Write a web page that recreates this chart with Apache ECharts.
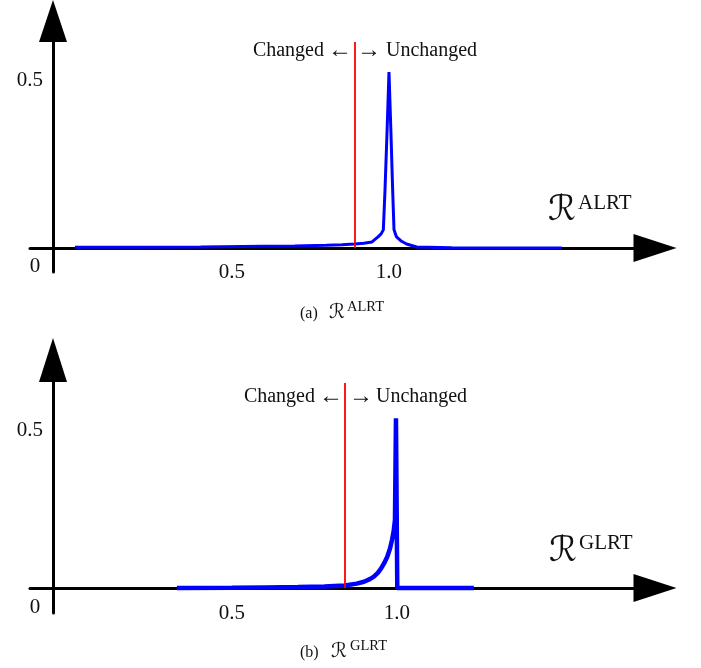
<!DOCTYPE html>
<html><head><meta charset="utf-8">
<script src="https://cdn.jsdelivr.net/npm/echarts@6/dist/echarts.min.js"></script>
<style>html,body{margin:0;padding:0;background:#fff}#c{width:701px;height:668px}</style>
</head><body><div id="c"></div>
<script>
// ALRT histogram (top panel)
const alrtX = [0, 0.2, 0.4, 0.6, 0.7, 0.8, 0.85, 0.89, 0.92, 0.946, 0.965, 0.975, 0.982, 0.987, 0.994, 1.0, 1.006, 1.012, 1.016, 1.024, 1.04, 1.056, 1.088, 1.2, 1.4, 1.55];
const alrtY = [0.002, 0.002, 0.003, 0.005, 0.006, 0.008, 0.01, 0.012, 0.014, 0.018, 0.033, 0.042, 0.054, 0.164, 0.35, 0.524, 0.35, 0.164, 0.054, 0.033, 0.02, 0.012, 0.003, 0.001, 0.0, 0.0];
// GLRT histogram (bottom panel)
const glrtX = [0.333, 0.5, 0.6, 0.7, 0.78, 0.842, 0.878, 0.9, 0.918, 0.93, 0.942, 0.952, 0.962, 0.971, 0.979, 0.985, 0.99, 0.994, 0.997, 1.001, 1.05, 1.233];
const glrtY = [0.0, 0.001, 0.002, 0.003, 0.005, 0.008, 0.014, 0.02, 0.028, 0.036, 0.048, 0.062, 0.08, 0.1, 0.125, 0.152, 0.18, 0.215, 0.537, 0.0, 0.0, 0.0];
// decision thresholds (red lines) and their drawn heights
const thresholdX = [0.892, 0.842];
const thresholdTop = [0.613, 0.649];
// tick labels
const xTickValues = [0.5, 1.0];
const yTickValues = [0.5];
const panelNames = ['ALRT', 'GLRT'];
const captionLetters = ['(a)', '(b)'];

const SERIF = '"Liberation Serif", "DejaVu Serif", serif';
const SCRIPT = '"DejaVu Serif", "DejaVu Sans", serif';
const zip = (xs, ys) => xs.map((x, i) => [x, ys[i]]);

const chart = echarts.init(document.getElementById('c'), null, {renderer: 'canvas'});

function xAxisCfg(idx, min, max) {
  return {
    type: 'value', gridIndex: idx, min: min, max: max,
    splitLine: {show: false}, axisTick: {show: false},
    axisLine: {show: true, onZero: true, symbol: ['none', 'triangle'], symbolSize: [28, 43],
      lineStyle: {color: '#000', width: 3}},
    axisLabel: {customValues: xTickValues, formatter: v => v.toFixed(1),
      fontFamily: SERIF, fontSize: 21, color: '#111', margin: -10}
  };
}
function yAxisCfg(idx, min, max, arrowLen) {
  return {
    type: 'value', gridIndex: idx, min: min, max: max, offset: -23,
    splitLine: {show: false}, axisTick: {show: false},
    axisLine: {show: true, onZero: false, symbol: ['none', 'triangle'], symbolSize: [28, arrowLen],
      lineStyle: {color: '#000', width: 3}},
    axisLabel: {customValues: yTickValues, formatter: v => v.toFixed(1),
      fontFamily: SERIF, fontSize: 21, color: '#111', margin: 10}
  };
}
function seriesCfg(idx, xs, ys, width) {
  return {
    type: 'line', xAxisIndex: idx, yAxisIndex: idx, data: zip(xs, ys),
    showSymbol: false, symbol: 'none', smooth: false,
    lineStyle: {color: '#0000ff', width: width}, itemStyle: {color: '#0000ff'},
    z: 3,
    markLine: {
      silent: true, symbol: ['none', 'none'], animation: false,
      lineStyle: {color: '#ff0000', width: 1.8, type: 'solid'},
      label: {show: false},
      data: [[{coord: [thresholdX[idx], 0]}, {coord: [thresholdX[idx], thresholdTop[idx]]}]]
    }
  };
}

function txt(x, y, s, size, align, font) {
  return {type: 'text', x: x, y: y, z: 10,
    style: {text: s, fontSize: size, fontFamily: font || SERIF, fill: '#111',
      align: align || 'left', verticalAlign: 'middle'}};
}

const graphics = [
  // origin labels
  txt(35, 266, '0', 21, 'center'), txt(35, 607, '0', 21, 'center'),
  // top annotations
  txt(324, 51, 'Changed', 20, 'right'), txt(340, 51, '←', 24, 'center'),
  txt(369, 51, '→', 24, 'center'), txt(386, 51, 'Unchanged', 20, 'left'),
  // bottom annotations
  txt(315, 397, 'Changed', 20, 'right'), txt(331, 397, '←', 24, 'center'),
  txt(361, 397, '→', 24, 'center'), txt(376, 397, 'Unchanged', 20, 'left'),
  // axis names
  txt(562, 211, 'ℛ', 35, 'center', SCRIPT), txt(578, 203, panelNames[0], 21, 'left'),
  txt(563, 552, 'ℛ', 35, 'center', SCRIPT), txt(579, 543, panelNames[1], 21, 'left'),
  // captions
  txt(300, 314, captionLetters[0], 16, 'left'), txt(337, 313, 'ℛ', 20, 'center', SCRIPT), txt(347, 307, panelNames[0], 14.5, 'left'),
  txt(300, 653, captionLetters[1], 16, 'left'), txt(339, 652, 'ℛ', 20, 'center', SCRIPT), txt(350, 646, panelNames[1], 14.5, 'left')
];

chart.setOption({
  animation: false,
  backgroundColor: '#fff',
  grid: [
    {left: 30, right: 46, top: 21, height: 251, containLabel: false},
    {left: 30, right: 46, top: 360, height: 253, containLabel: false}
  ],
  xAxis: [xAxisCfg(0, -0.143, 1.847), xAxisCfg(1, -0.112, 1.782)],
  yAxis: [yAxisCfg(0, -0.0714, 0.6756, 42), yAxisCfg(1, -0.079, 0.7215, 44)],
  series: [seriesCfg(0, alrtX, alrtY, 3), seriesCfg(1, glrtX, glrtY, 4.5)],
  graphic: graphics
});
</script>
</body></html>
